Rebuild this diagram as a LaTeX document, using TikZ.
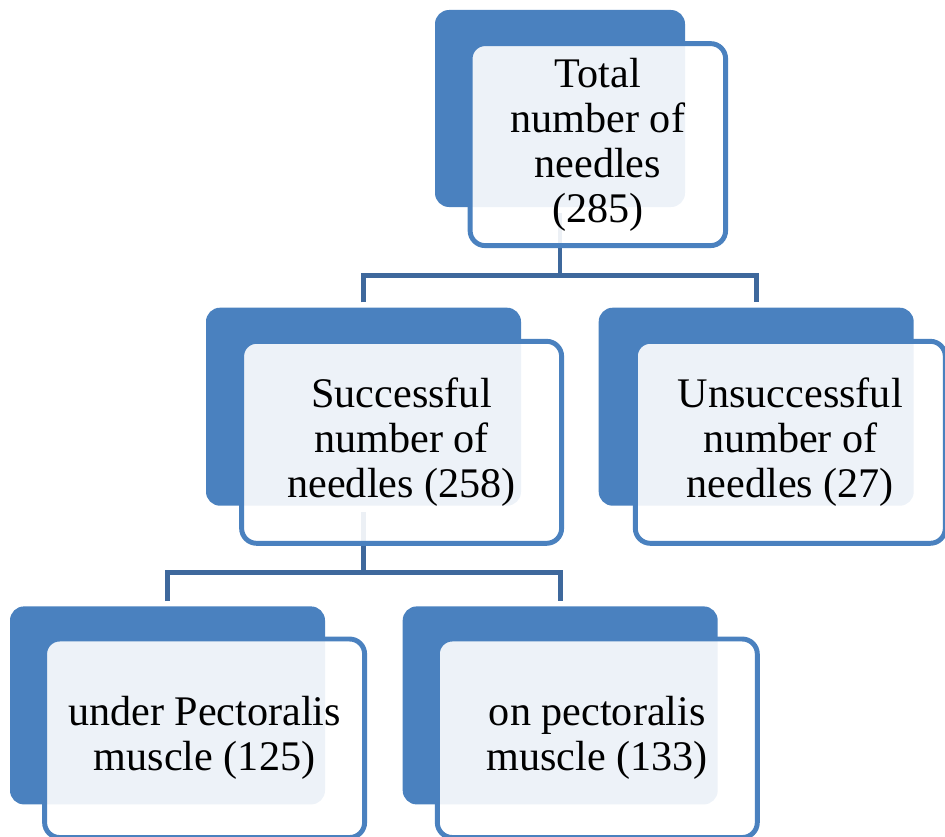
\documentclass[tikz,border=0pt]{standalone}
\usepackage{fontspec}
\setmainfont{Liberation Serif}
\usetikzlibrary{positioning, backgrounds}
\definecolor{plateblue}{RGB}{74,129,191}
\definecolor{linkblue}{RGB}{62,104,156}

\begin{document}
\begin{tikzpicture}[
  plate/.style={fill=plateblue, rounded corners=0.28cm, minimum width=6.3cm,
                minimum height=3.96cm, inner sep=0pt},
  card/.style={draw=plateblue, line width=2.8pt, fill=white, fill opacity=0.9,
               text opacity=1, rounded corners=0.3cm, minimum width=6.4cm,
               minimum height=4.04cm, inner sep=2pt, align=center, anchor=north west,
               font=\fontsize{24}{25.6}\selectfont},
  link/.style={draw=linkblue, line width=2.8pt},
]

\useasboundingbox (0,0) rectangle (18.9,-16.74);
\clip (0,0) rectangle (18.9,-16.74);

% Plates
\node[plate, minimum width=5cm, minimum height=3.94cm] (p0) at (11.2,-2.17) {};
\node[plate, below=2cm of p0, xshift=-3.93cm] (p1) {};
\node[plate, right=1.54cm of p1] (p2) {};
\node[plate, below=2cm of p1, xshift=-3.92cm] (p3) {};
\node[plate, right=1.54cm of p3] (p4) {};

% Cards
\node[card, minimum width=5.11cm] (c0) at ([shift={(0.66,-0.63)}]p0.north west)
  {Total\\number of\\needles\\(285)};
\node[card] (c1) at ([shift={(0.67,-0.63)}]p1.north west)
  {Successful\\number of\\needles (258)};
\node[card, minimum width=6.2cm] (c2) at ([shift={(0.69,-0.63)}]p2.north west)
  {Unsuccessful\\number of\\needles (27)};
\node[card, minimum height=3.97cm] (c3) at ([shift={(0.65,-0.61)}]p3.north west)
  {under Pectoralis\\muscle (125)};
\node[card, minimum height=3.97cm] (c4) at ([shift={(0.65,-0.61)}]p4.north west)
  {on pectoralis\\muscle (133)};

% Links
\begin{scope}[on background layer]
  \coordinate[below=1.36cm of p0.south] (j0);
  \draw[link] ([yshift=-0.12cm]p0.south) -- (j0);
  \draw[link] ([yshift=0.1cm]p1.north) |- (j0) -| ([yshift=0.1cm]p2.north);
  \coordinate[below=1.33cm of p1.south] (j1);
  \draw[link] ([yshift=-0.12cm]p1.south) -- (j1);
  \draw[link] ([yshift=0.1cm]p3.north) |- (j1) -| ([yshift=0.1cm]p4.north);
\end{scope}

\end{tikzpicture}
\end{document}
